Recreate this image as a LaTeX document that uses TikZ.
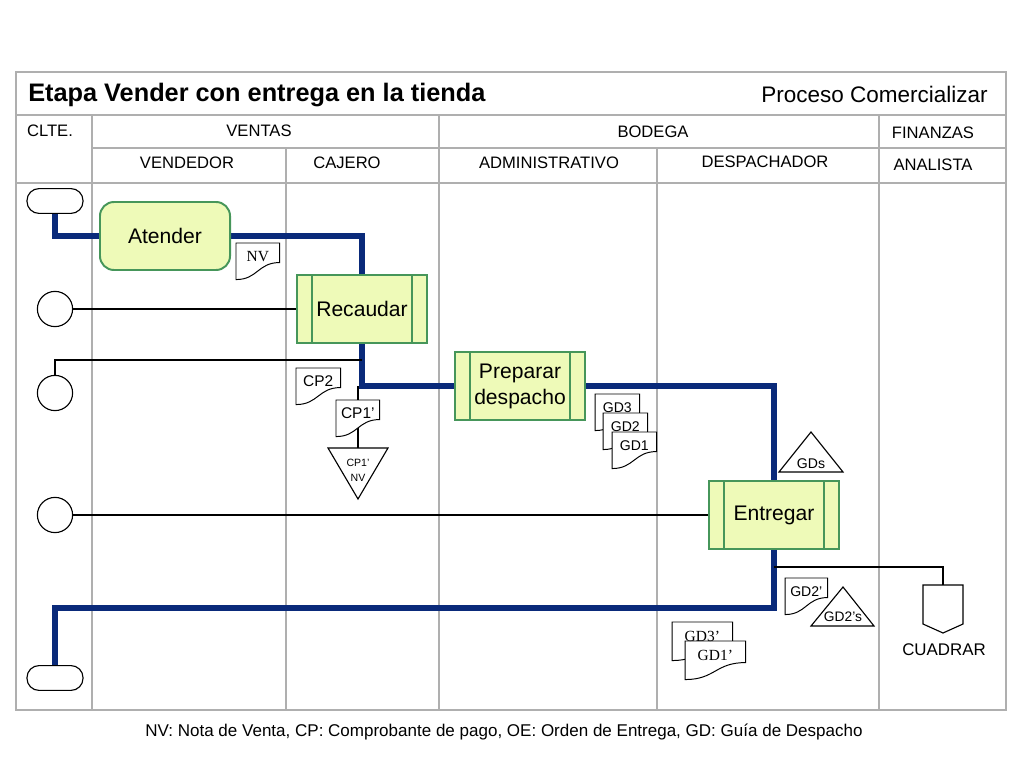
\documentclass[tikz,border=0pt]{standalone}
\usepackage{fontspec}
\setmainfont{Liberation Sans}
\newfontfamily\docserif{Liberation Serif}
\usetikzlibrary{calc}
\pgfdeclarelayer{fondo}
\pgfsetlayers{fondo,main}
\definecolor{azulflujo}{RGB}{10,42,122}
\definecolor{verdeborde}{RGB}{70,150,90}
\definecolor{verdefondo}{RGB}{238,250,184}
\definecolor{grisrejilla}{RGB}{175,175,175}
\tikzset{
  rejilla/.style={draw=grisrejilla, line width=0.8pt},
  flujo/.style={draw=azulflujo, line width=3.6pt},
  fino/.style={draw=black, line width=0.8pt},
  cab/.style={inner sep=1pt, font=\fontsize{11.8}{14}\selectfont},
  term/.style={fino, rounded corners=0.3cm, minimum width=1.4cm, minimum height=0.62cm},
  evento/.style={fino, circle, inner sep=0pt, minimum size=0.88cm},
  tarea/.style={draw=verdeborde, fill=verdefondo, line width=1.4pt, minimum width=3.25cm,
    minimum height=1.7cm, align=center, font=\fontsize{15}{18.5}\selectfont},
  doc/.style={inner sep=0pt, minimum width=1.1cm, minimum height=0.65cm, anchor=north west,
    font=\fontsize{10}{12}\selectfont},
  docgrande/.style={doc, minimum width=1.5cm, minimum height=0.7cm,
    font=\docserif\fontsize{11}{13}\selectfont},
  archivo/.style={fino, fill=white}
}
% barras laterales de las actividades
\newcommand{\barras}[1]{\draw[draw=verdeborde, line width=1.4pt]
  ([xshift=0.4cm]#1.north west) -- ([xshift=0.4cm]#1.south west)
  ([xshift=-0.4cm]#1.north east) -- ([xshift=-0.4cm]#1.south east);}
% contorno de documento
\newcommand{\hoja}[1]{\draw[line width=0.7pt, fill=white] (#1.north west) -- (#1.north east)
  -- ([yshift=0.175cm]#1.south east) .. controls ([yshift=0.175cm]#1.south)
  and ([yshift=-0.25cm]#1.south) .. ([yshift=-0.25cm]#1.south west) -- cycle;}
\begin{document}
\begin{tikzpicture}[x=0.025cm,y=-0.025cm]
\useasboundingbox (0,0) rectangle (1024,768);
% encabezado
\node[anchor=base west, inner sep=0pt, font=\fontsize{18}{22}\bfseries\selectfont] (titulo) at (28,102) {Etapa Vender con entrega en la tienda};
\node[anchor=base east, inner sep=0pt, font=\fontsize{16}{19}\selectfont] (proceso) at (988,103) {Proceso Comercializar};
\node[cab] (clte) at (50,131) {CLTE.};
\node[cab] (ventas) at (259,131) {VENTAS};
\node[cab] (bodega) at (653,132) {BODEGA};
\node[cab] (finanzas) at (933,133) {FINANZAS};
\node[cab] (vendedor) at (187,163) {VENDEDOR};
\node[cab] (cajero) at (347,163) {CAJERO};
\node[cab] (admin) at (549,163) {ADMINISTRATIVO};
\node[cab] (despachador) at (765,162) {DESPACHADOR};
\node[cab] (analista) at (933,165) {ANALISTA};

% eventos del cliente
\node[term] (inicio) at (55,201) {};
\node[evento] (ev1) at (55,309) {};
\node[evento] (ev2) at (55,393) {};
\node[evento] (ev3) at (55,515) {};
\node[term] (fin) at (55,678) {};

% actividades
\node[tarea, rounded corners=0.35cm] (atender) at (165,236) {Atender};
\node[tarea] (recaudar) at (362,309) {Recaudar};
\node[tarea] (preparar) at (520,386) {Preparar\\despacho};
\node[tarea] (entregar) at (774,515) {Entregar};
\barras{recaudar}
\barras{preparar}
\barras{entregar}

% documentos
\node[doc, minimum width=1.075cm, font=\docserif\fontsize{11}{13}\selectfont] (nv) at (236,243) {NV};
\node[doc, font=\fontsize{11}{13}\selectfont] (cp2) at (296,368) {CP2};
\node[doc, minimum width=1.075cm, font=\fontsize{11}{13}\selectfont] (cp1) at (336,400) {CP1’};
\node[doc] (gd3) at (595,394) {GD3};
\node[doc] (gd2) at (603,413) {GD2};
\node[doc] (gd1) at (612,432) {GD1};
\node[doc, minimum width=1.05cm] (gd2p) at (785,578) {GD2’};
\node[docgrande] (gd3p) at (672,622) {GD3’};
\node[docgrande] (gd1p) at (685,641) {GD1’};

% archivos
\draw[archivo] (328,448) -- (388,448) -- (358,499) -- cycle;
\node[align=center, font=\fontsize{7.5}{10.7}\selectfont] (archcp) at (358,470) {CP1’\\NV};
\draw[archivo] (779,472) -- (843,472) -- (811,432) -- cycle;
\node[font=\fontsize{10}{12}\selectfont] (gds) at (811,464) {GDs};
\draw[archivo] (811,626) -- (874,626) -- (843,587) -- cycle;
\node[font=\fontsize{9.8}{12}\selectfont] (gd2s) at (843,617) {GD2’s};
\draw[archivo] (923,585) -- (963,585) -- (963,624) -- (943,633) -- (923,624) -- cycle;
\node[font=\fontsize{12}{14}\selectfont] (cuadrartxt) at (944,650) {CUADRAR};

\coordinate (enlace) at (362,360);
\coordinate (esquina) at (358,386);
\coordinate (archcpsup) at (358,448);
\coordinate (retorno) at (774,608);
\coordinate (salida) at (774,567);
\coordinate (cuadrar) at (943,585);

\node[anchor=base, inner sep=0pt, font=\fontsize{12.1}{14}\selectfont] (leyenda) at (504,736) {NV: Nota de Venta, CP: Comprobante de pago, OE: Orden de Entrega, GD: Guía de Despacho};

\begin{pgfonlayer}{fondo}
% rejilla
\draw[rejilla] (16,72) rectangle (1006,710);
\draw[rejilla] (16,115) -- (1006,115) (92,148) -- (1006,148) (16,183) -- (1006,183);
\foreach \x/\y in {92/115, 286/148, 439/115, 657/148, 879/115}
  \draw[rejilla] (\x,\y) -- (\x,710);
% flujo
\draw[flujo] (inicio.south) |- (atender.west);
\draw[flujo] (atender.east) -| (recaudar.north);
\draw[flujo] (recaudar.south) |- (preparar.west);
\draw[flujo] (preparar.east) -| (entregar.north);
\draw[flujo] (entregar.south) -- (retorno) -| (fin.north);
\draw[fino] (ev1.east) -- (recaudar.west);
\draw[fino] (ev2.north) |- (enlace);
\draw[fino] (ev3.east) -- (entregar.west);
\draw[fino] (esquina) -- (archcpsup);
\draw[fino] (salida) -| (cuadrar);
% hojas
\hoja{nv} \hoja{cp2} \hoja{cp1}
\hoja{gd3} \hoja{gd2} \hoja{gd1}
\hoja{gd2p} \hoja{gd3p} \hoja{gd1p}
\end{pgfonlayer}
\end{tikzpicture}
\end{document}
